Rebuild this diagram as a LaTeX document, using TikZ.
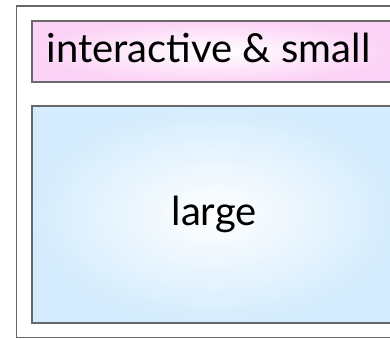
\documentclass[tikz,border=0pt]{standalone}
\usepackage{fontspec}
\setmainfont{Lato}
\definecolor{edge}{HTML}{686868}
\definecolor{pinkE}{HTML}{FCD2F6}
\definecolor{blueE}{HTML}{D4ECFD}
\begin{document}
\begin{tikzpicture}[x=1pt,y=-1pt,
  outerbox/.style={draw=edge,line width=1.5pt,inner sep=0pt,anchor=north west},
  innerbox/.style={draw=edge,line width=2.2pt,inner sep=0pt,anchor=north west},
  lbl/.style={font=\fontsize{40}{44}\selectfont,text=black}]
\useasboundingbox (0,0) rectangle (390,338);
\clip (0,0) rectangle (390,338);
\node[outerbox,minimum width=390pt,minimum height=331.5pt] (outer) at (15.5,5) {};
\node[innerbox,minimum width=364pt,minimum height=61pt,
  inner color=white,outer color=pinkE] (small) at (31,20) {};
\node[lbl,anchor=base west] (smalltxt) at (43,62) {interactive \& small};
\node[innerbox,minimum width=364pt,minimum height=217pt,
  inner color=white,outer color=blueE] (large) at (31,105) {};
\node[lbl] (largetxt) at (large.center) {large};
\end{tikzpicture}
\end{document}
